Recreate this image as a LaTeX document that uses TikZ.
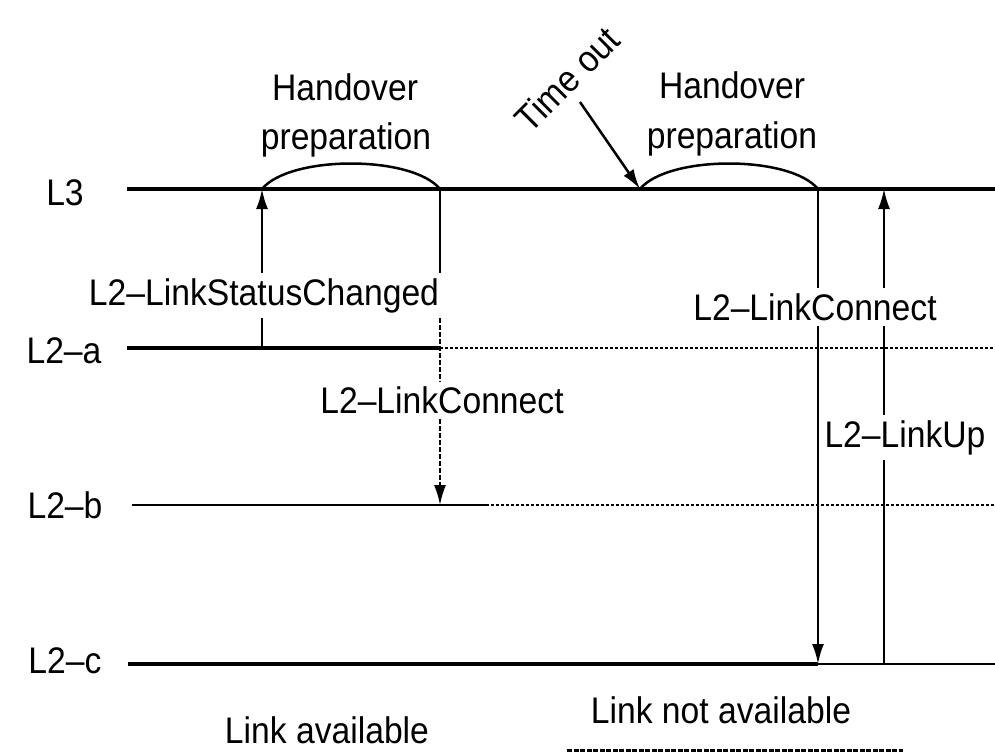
\documentclass[tikz,border=0pt]{standalone}
\usepackage{fontspec}
\setmainfont{Liberation Sans}[FakeStretch=0.91]
\usetikzlibrary{arrows.meta}
\begin{document}
\begin{tikzpicture}[x=1pt,y=-1pt,
  lbl/.style={font=\fontsize{37}{40}\selectfont, inner sep=1pt, anchor=base},
  cut/.style={lbl, inner xsep=2pt, inner ysep=5pt},
  mainline/.style={line width=3.2pt},
  thinline/.style={line width=2.2pt},
  dotline/.style={line width=1.8pt, dash pattern=on 3pt off 2pt},
  vline/.style={line width=2.5pt},
  vthin/.style={line width=2pt},
  vdash/.style={line width=2pt, dash pattern=on 5pt off 2pt},
  tip/.style={-{Latex[length=20pt,width=12pt]}}
]
\useasboundingbox (0,0) rectangle (995,753);

% layer labels
\node[lbl] (nL3) at (65,205) {L3};
\node[lbl] (nL2a) at (64,363) {L2--a};
\node[lbl] (nL2b) at (65,518) {L2--b};
\node[lbl] (nL2c) at (65,673) {L2--c};

% layer lines
\coordinate (l3s) at (127,189);
\coordinate (l3e) at (995,189);
\coordinate (las) at (127,348);
\coordinate (lam) at (440,348);
\coordinate (lae) at (995,348);
\coordinate (lbs) at (132,505);
\coordinate (lbm) at (486,505);
\coordinate (lbe) at (995,505);
\coordinate (lcs) at (128,664);
\coordinate (lcm) at (818,664);
\coordinate (lce) at (995,664);

\draw[mainline] (l3s) -- (l3e);
\draw[mainline] (las) -- (lam);
\draw[dotline] (lam) -- (lae);
\draw[thinline] (lbs) -- (lbm);
\draw[dotline] (lbm) -- (lbe);
\draw[mainline] (lcs) -- (lcm);
\draw[thinline] (lcm) -- (lce);

% handover preparation arcs
\coordinate (a1s) at (262,189);
\coordinate (a1e) at (440,189);
\coordinate (a2s) at (640,189);
\coordinate (a2e) at (818,189);
\draw[vline] (a1s) .. controls (290,155) and (412,155) .. (a1e);
\draw[vline] (a2s) .. controls (668,155) and (790,155) .. (a2e);

\node[lbl] (hp1a) at (345,100) {Handover};
\node[lbl] (hp1b) at (346,149) {preparation};
\node[lbl] (hp2a) at (732,98) {Handover};
\node[lbl] (hp2b) at (732,148) {preparation};

% time out
\node[lbl, anchor=center, rotate=45] (tout) at (567,79) {Time out};
\coordinate (tos) at (580,102);
\draw[vline, tip] (tos) -- (a2s);

% signal labels
\node[cut] (lsc) at (264,305) {L2--LinkStatusChanged};
\node[cut] (lc1) at (442,413) {L2--LinkConnect};
\node[cut] (lc2) at (815,320) {L2--LinkConnect};
\node[cut] (lup) at (905,447) {L2--LinkUp};

% vertical connectors
\coordinate (x1b) at (262,348);
\coordinate (x2b) at (440,505);
\coordinate (x3b) at (818,664);
\coordinate (x4b) at (884,664);
\coordinate (x4t) at (884,189);

\draw[vline] (x1b) -- (x1b |- lsc.south);
\draw[vline, tip] (x1b |- lsc.north) -- (a1s);

\draw[vline] (a1e) -- (a1e |- lsc.north);
\draw[vdash] (a1e |- lsc.south) -- (a1e |- lc1.north);
\draw[vdash, tip] (a1e |- lc1.south) -- (x2b);

\draw[vline] (a2e) -- (a2e |- lc2.north);
\draw[vline, tip] (a2e |- lc2.south) -- (x3b);

\draw[vthin] (x4b) -- (x4b |- lup.south);
\draw[vthin] (x4b |- lup.north) -- (x4b |- lc2.south);
\draw[vthin, tip] (x4b |- lc2.north) -- (x4t);

% bottom labels
\node[lbl] (lav) at (327,743) {Link available};
\node[lbl] (lnav) at (721,723) {Link not available};
\coordinate (uls) at (567,750);
\coordinate (ule) at (903,750);
\draw[line width=3pt, dash pattern=on 5pt off 1.5pt] (uls) -- (ule);
\end{tikzpicture}
\end{document}
